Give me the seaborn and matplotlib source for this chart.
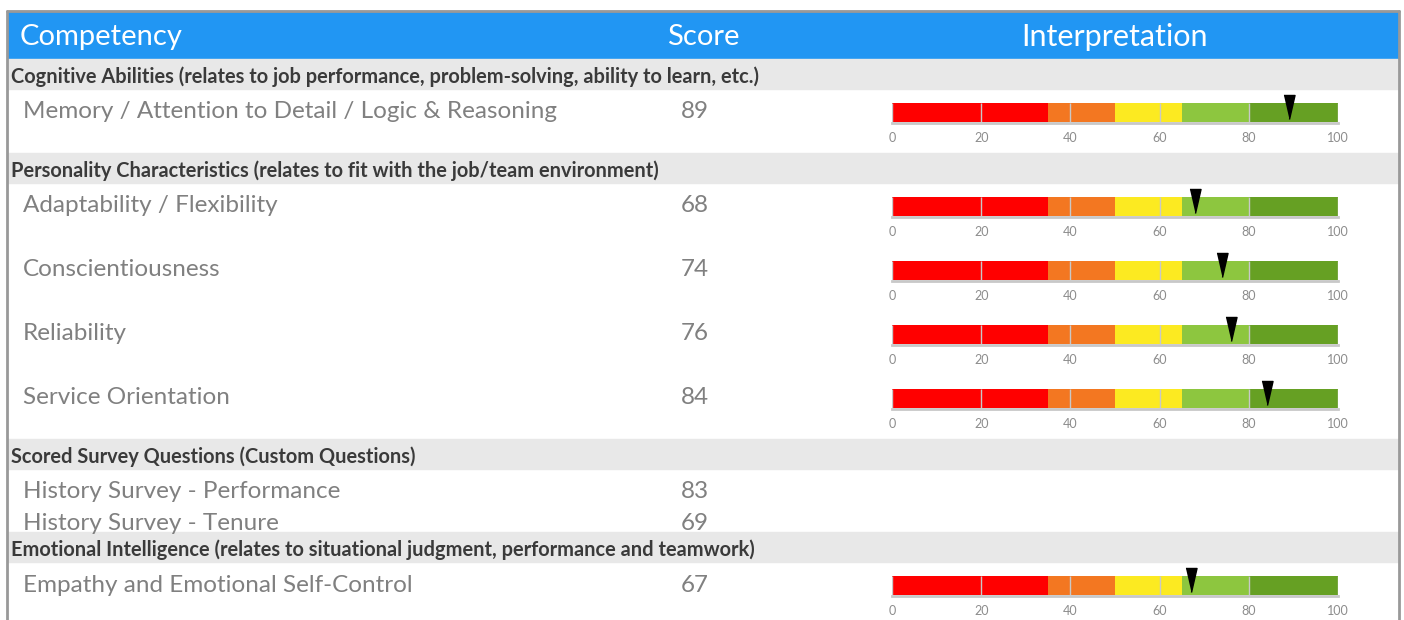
import matplotlib
matplotlib.use("Agg")
import matplotlib.pyplot as plt
from matplotlib.patches import Rectangle
import seaborn as sns

# ---- data ----
section_titles = [
    "Cognitive Abilities (relates to job performance, problem-solving, ability to learn, etc.)",
    "Personality Characteristics (relates to fit with the job/team environment)",
    "Scored Survey Questions (Custom Questions)",
    "Emotional Intelligence (relates to situational judgment, performance and teamwork)",
]
cognitive_items = ["Memory / Attention to Detail / Logic & Reasoning"]
cognitive_scores = [89]
personality_items = ["Adaptability / Flexibility", "Conscientiousness", "Reliability", "Service Orientation"]
personality_scores = [68, 74, 76, 84]
survey_items = ["History Survey - Performance", "History Survey - Tenure"]
survey_scores = [83, 69]
emotional_items = ["Empathy and Emotional Self-Control"]
emotional_scores = [67]
section_has_gauge = [True, True, False, True]

band_ends = [35, 50, 65, 80, 100]
band_colors = ["#FF0000", "#F37721", "#FCEA21", "#8DC63F", "#66A023"]
tick_values = [0, 20, 40, 60, 80, 100]
header_labels = ["Competency", "Score", "Interpretation"]

sections = [
    (cognitive_items, cognitive_scores),
    (personality_items, personality_scores),
    (survey_items, survey_scores),
    (emotional_items, emotional_scores),
]

# ---- style ----
sns.set_theme(style="white")
plt.rcParams["font.family"] = ["Lato", "DejaVu Sans"]

W, H = 1404, 620
fig = plt.figure(figsize=(W / 100, H / 100), dpi=100)
bg = fig.add_axes([0, 0, 1, 1])
bg.set_xlim(0, W)
bg.set_ylim(H, 0)
bg.axis("off")

label_color = "#808080"
section_color = "#3a3a3a"
gauge_x0, gauge_x1 = 892, 1338

# header
bg.add_patch(Rectangle((8, 11), 1390, 48, color="#2196F3", zorder=1))
bg.text(20, 37, header_labels[0], color="white", fontsize=21, va="center", ha="left")
bg.text(703, 37, header_labels[1], color="white", fontsize=21, va="center", ha="center")
bg.text(1115, 37, header_labels[2], color="white", fontsize=22, va="center", ha="center")

y = 59
for title, (items, scores), has_gauge in zip(section_titles, sections, section_has_gauge):
    bg.add_patch(Rectangle((8, y), 1390, 30, color="#E8E8E8", zorder=1))
    bg.text(11, y + 17.5, title, color=section_color, fontsize=14.4, fontweight="bold",
            va="center", ha="left")
    y += 30
    row_h = 64 if has_gauge else 31.5
    for item, score in zip(items, scores):
        bg.text(23, y + 23, item, color=label_color, fontsize=17.5, va="center", ha="left")
        bg.text(681, y + 23, str(score), color=label_color, fontsize=17.5, va="center", ha="left")
        if has_gauge:
            top, bot = y + 13.5, y + 33
            ax = fig.add_axes([gauge_x0 / W, 1 - bot / H, (gauge_x1 - gauge_x0) / W, (bot - top) / H])
            for end, col in sorted(zip(band_ends, band_colors), reverse=True):
                sns.barplot(x=[end], y=[0], orient="h", color=col, saturation=1,
                            width=1, linewidth=0, ax=ax)
            ax.set_xlim(0, 100)
            ax.set_ylim(0.5, -0.5)
            ax.vlines(tick_values, 0, 1, transform=ax.get_xaxis_transform(),
                      color="#c8c8c8", lw=1, zorder=3)
            ax.plot([score], [0.79], transform=ax.get_xaxis_transform(),
                    marker=[(-0.46, 1), (0.46, 1), (0, -1)], ms=17.3, color="black",
                    clip_on=False, zorder=5, linestyle="none")
            ax.tick_params(axis="x", length=0, pad=6, labelsize=9, labelcolor="#8c8c8c")
            ax.set_xticks(tick_values)
            ax.set_xticklabels([str(v) for v in tick_values])
            labels = ax.get_xticklabels()
            labels[0].set_ha("left")
            labels[-1].set_ha("right")
            ax.set_yticks([])
            ax.set_xlabel("")
            ax.set_ylabel("")
            for side in ["top", "left", "right"]:
                ax.spines[side].set_visible(False)
            ax.spines["bottom"].set_color("#c8c8c8")
            ax.spines["bottom"].set_linewidth(2)
            ax.spines["bottom"].set_position(("outward", 1))
        y += row_h

# outer border
bg.plot([7, 1399], [11, 11], color="#999999", lw=2, zorder=4)
bg.plot([7, 7], [11, H], color="#999999", lw=2, zorder=4)
bg.plot([1399, 1399], [11, H], color="#999999", lw=2, zorder=4)

fig.savefig("out.png", dpi=100)
